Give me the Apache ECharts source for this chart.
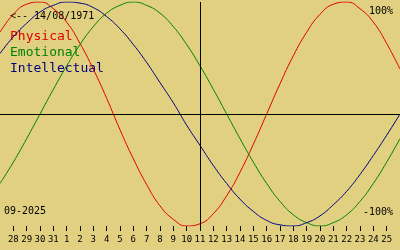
<!DOCTYPE html>
<html><head><meta charset="utf-8">
<script src="https://cdn.jsdelivr.net/npm/echarts@6/dist/echarts.min.js"></script>
<style>html,body{margin:0;padding:0;background:#E0D080}#c{width:400px;height:250px}</style>
</head><body><div id="c"></div>
<script>
const days = ['27','28','29','30','31','1','2','3','4','5','6','7','8','9','10','11','12','13','14','15','16','17','18','19','20','21','22','23','24','25','26'];
const physical = [0.73,0.89,0.98,1.00,0.94,0.82,0.63,0.40,0.14,-0.14,-0.40,-0.63,-0.82,-0.94,-1.00,-0.98,-0.89,-0.73,-0.52,-0.27,0.00,0.27,0.52,0.73,0.89,0.98,1.00,0.94,0.82,0.63,0.40];
const emotional = [-0.62,-0.43,-0.22,0.00,0.22,0.43,0.62,0.78,0.90,0.97,1.00,0.97,0.90,0.78,0.62,0.43,0.22,0.00,-0.22,-0.43,-0.62,-0.78,-0.90,-0.97,-1.00,-0.97,-0.90,-0.78,-0.62,-0.43,-0.22];
const intellectual = [0.54,0.69,0.81,0.91,0.97,1.00,0.99,0.95,0.87,0.76,0.62,0.46,0.28,0.10,-0.10,-0.28,-0.46,-0.62,-0.76,-0.87,-0.95,-0.99,-1.00,-0.97,-0.91,-0.81,-0.69,-0.54,-0.37,-0.19,0.00];
const todayLabel = '11';
const birthText = '<-- 14/08/1971';
const monthText = '09-2025';
const names = ['Physical','Emotional','Intellectual'];
const colors = ['#E00000','#008000','#000080'];

const chart = echarts.init(document.getElementById('c'), null, {renderer:'canvas'});
const mono = 'DejaVu Sans Mono';
const inner = (i) => i > 0 && i < days.length - 1;
chart.setOption({
  backgroundColor: '#E0D080',
  animation: false,
  grid: {left: 0, right: 0, top: 2, bottom: 24, containLabel: false, outerBoundsMode: 'none'},
  xAxis: {
    type: 'category', data: days, boundaryGap: false,
    axisLine: {show: true, onZero: false, lineStyle: {color: 'rgba(0,0,0,0)'}},
    axisTick: {show: true, length: 5, interval: inner, lineStyle: {color: '#000', width: 1}},
    axisLabel: {show: true, interval: inner, margin: 9, color: '#000', fontFamily: mono, fontSize: 9},
    splitLine: {show: false}
  },
  yAxis: {type: 'value', min: -1, max: 1, show: false, splitLine: {show: false}},
  series: [
    {name: names[0], type: 'line', data: physical, smooth: true, showSymbol: false,
     lineStyle: {color: colors[0], width: 1}, itemStyle: {color: colors[0]},
     markLine: {silent: true, symbol: 'none', label: {show: false},
       lineStyle: {color: '#000', width: 1, type: 'solid'},
       data: [{yAxis: 0}, {xAxis: todayLabel}]}},
    {name: names[1], type: 'line', data: emotional, smooth: true, showSymbol: false,
     lineStyle: {color: colors[1], width: 1}, itemStyle: {color: colors[1]}},
    {name: names[2], type: 'line', data: intellectual, smooth: true, showSymbol: false,
     lineStyle: {color: colors[2], width: 1}, itemStyle: {color: colors[2]}}
  ],
  graphic: [
    {type: 'text', left: 10, top: 11, style: {text: birthText, fill: '#000', font: '10px ' + mono}},
    {type: 'text', left: 10, top: 30, style: {text: names[0], fill: colors[0], font: '13px ' + mono}},
    {type: 'text', left: 10, top: 46, style: {text: names[1], fill: colors[1], font: '13px ' + mono}},
    {type: 'text', left: 10, top: 62, style: {text: names[2], fill: colors[2], font: '13px ' + mono}},
    {type: 'text', right: 7, top: 6, style: {text: '100%', fill: '#000', font: '10px ' + mono}},
    {type: 'text', right: 7, top: 207, style: {text: '-100%', fill: '#000', font: '10px ' + mono}},
    {type: 'text', left: 4, top: 206, style: {text: monthText, fill: '#000', font: '10px ' + mono}}
  ]
});
</script></body></html>
